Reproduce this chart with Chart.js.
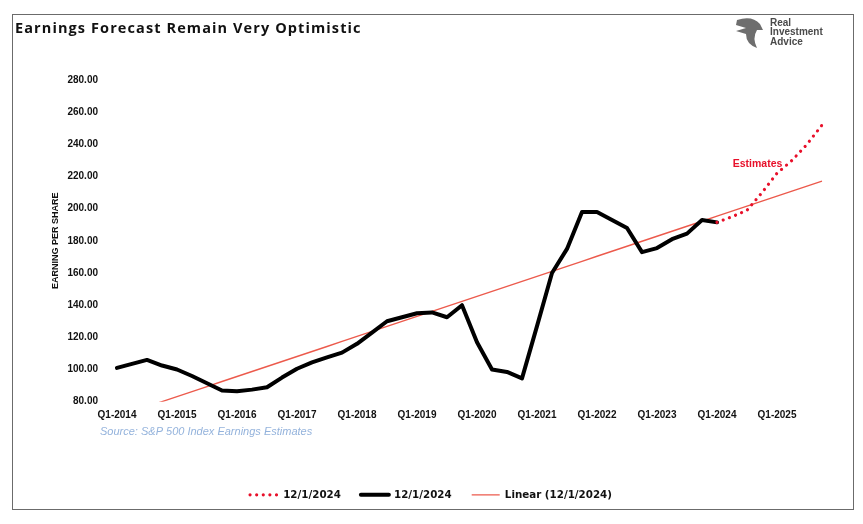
<!DOCTYPE html>
<html>
<head>
<meta charset="utf-8">
<script src="https://cdn.jsdelivr.net/npm/chart.js@4.4.1/dist/chart.umd.min.js"></script>
<style>
  html, body { margin: 0; padding: 0; background: #fff; }
  #wrap { width: 863px; height: 524px; position: relative; }
</style>
</head>
<body>
<div id="wrap"><canvas id="myChart" width="863" height="524"></canvas></div>
<script>
// quarterly EPS, Q1-2014 .. Q1-2024 (actual)
const years = [2014, 2015, 2016, 2017, 2018, 2019, 2020, 2021, 2022, 2023, 2024, 2025];
const actual = [
    101, 103.5, 106, 102.5,
    100, 96, 91.5, 87,
    86.5, 87.5, 89, 95,
    100.5, 104.5, 107.5, 110.5,
    116, 123, 130, 132.5,
    135, 135.5, 132.5, 140,
    117, 100, 98.5, 94.5,
    127, 160, 175, 198,
    198, 193, 188, 173,
    175.5, 181, 184.5, 193,
    191.5
];
// estimates start from the last actual quarter
const estimates = [191.5, 195, 199, 210, 222, 230, 240, 252];
const yTicks = [80, 100, 120, 140, 160, 180, 200, 220, 240, 260, 280];

let labels = [];
years.forEach(y => {
    for (let q = 1; q <= 4; q++) labels.push('Q' + q + '-' + y);
});

const estStart = actual.length - 1;
let estData = labels.map((l, i) => i >= estStart ? estimates[i - estStart] : null);

// linear trendline (least squares over actual + estimates, like Excel)
const combined = actual.concat(estimates.slice(1));
const n = combined.length;
let sx = 0, sy = 0, sxy = 0, sxx = 0;
combined.forEach((v, i) => { sx += i; sy += v; sxy += i * v; sxx += i * i; });
const slope = (n * sxy - sx * sy) / (n * sxx - sx * sx);
const icpt = (sy - slope * sx) / n;
let trend = labels.map((l, i) => icpt + slope * i);

const extras = {
    id: 'extras',
    beforeDraw(chart) {
        const c = chart.ctx;
        c.save();
        c.fillStyle = '#fff';
        c.fillRect(0, 0, chart.width, chart.height);
        c.strokeStyle = '#6b6b6b';
        c.lineWidth = 1;
        c.strokeRect(12.5, 14.5, 841, 495);
        c.restore();
    },
    afterDraw(chart) {
        const c = chart.ctx;
        const xs = chart.scales.x, ys = chart.scales.y;
        c.save();
        // title
        c.fillStyle = '#111';
        c.font = 'bold 14.5px "Open Sans"';
        c.textBaseline = 'alphabetic';
        c.textAlign = 'left';
        c.letterSpacing = '1.1px';
        c.fillText('Earnings Forecast Remain Very Optimistic', 15, 33);
        c.letterSpacing = '0px';

        // source
        c.fillStyle = '#94b3dc';
        c.font = 'italic 11px "Liberation Sans"';
        c.textBaseline = 'middle';
        c.fillText('Source: S&P 500 Index Earnings Estimates', 100, 432);

        // estimates label
        c.fillStyle = '#e8102a';
        c.font = 'bold 10.5px "Liberation Sans"';
        c.textAlign = 'center';
        c.fillText('Estimates', xs.getPixelForValue(42.7), ys.getPixelForValue(227.5));

        // logo
        c.fillStyle = '#4a4a4a';
        c.font = 'bold 10px "Liberation Sans"';
        c.textAlign = 'left';
        c.fillText('Real', 770, 23);
        c.fillText('Investment', 770, 32.5);
        c.fillText('Advice', 770, 42);
        c.fillStyle = '#6e6e6e';
        c.beginPath();
        c.moveTo(737, 20);
        c.quadraticCurveTo(752, 15, 760, 24);
        c.lineTo(763, 30);
        c.lineTo(757, 30);
        c.quadraticCurveTo(752, 38, 757, 48);
        c.quadraticCurveTo(746, 44, 746, 34);
        c.lineTo(736, 31);
        c.lineTo(746, 28);
        c.lineTo(736, 25);
        c.closePath();
        c.fill();
        c.restore();
    }
};

const ctx = document.getElementById('myChart');
const chartEps = new Chart(ctx, {
    type: 'line',
    data: {
        labels: labels,
        datasets: [{
            label: '12/1/2024',
            data: estData,
            borderColor: '#e8102a',
            backgroundColor: '#e8102a',
            borderWidth: 3.2,
            borderDash: [0.01, 6.6],
            borderCapStyle: 'round',
            pointRadius: 0,
            tension: 0,
        }, {
            label: '12/1/2024',
            data: actual,
            borderColor: '#000',
            backgroundColor: '#000',
            borderWidth: 4,
            borderJoinStyle: 'round',
            borderCapStyle: 'round',
            pointRadius: 0,
            tension: 0,
        }, {
            label: 'Linear (12/1/2024)',
            data: trend,
            borderColor: '#ec5a4c',
            backgroundColor: '#ec5a4c',
            borderWidth: 1.4,
            pointRadius: 0,
            tension: 0,
        }]
    },
    options: {
        responsive: false,
        animation: false,
        events: [],
        layout: {
            padding: { left: 40, right: 41, top: 80, bottom: 14 }
        },
        scales: {
            x: {
                grid: { display: false, drawTicks: false },
                border: { display: false },
                ticks: {
                    autoSkip: false,
                    maxRotation: 0,
                    padding: 8,
                    color: '#111',
                    font: { family: 'Liberation Sans', size: 10, weight: 'bold' },
                    callback: function (val, i) {
                        return i % 4 === 0 ? labels[i] : '';
                    }
                },
                afterFit: function (scale) { scale.height = 68; }
            },
            y: {
                min: 80,
                max: 280,
                afterBuildTicks: function (scale) {
                    scale.ticks = yTicks.map(v => ({ value: v }));
                },
                grid: { display: false, drawTicks: false },
                border: { display: false },
                ticks: {
                    padding: 19,
                    color: '#111',
                    font: { family: 'Liberation Sans', size: 10, weight: 'bold' },
                    callback: v => v.toFixed(2)
                },
                title: {
                    display: true,
                    text: 'EARNING PER SHARE',
                    color: '#111',
                    padding: { top: 10, bottom: 0 },
                    font: { family: 'Liberation Sans', size: 9, weight: 'bold' }
                },
                afterFit: function (scale) { scale.width = 77; }
            }
        },
        plugins: {
            legend: {
                position: 'bottom',
                labels: {
                    usePointStyle: true,
                    pointStyleWidth: 28,
                    boxHeight: 4,
                    padding: 20,
                    color: '#111',
                    font: { family: 'DejaVu Sans', size: 10.3, weight: 'bold' },
                    generateLabels: function (chart) {
                        return chart.data.datasets.map((ds, i) => ({
                            text: ds.label,
                            datasetIndex: i,
                            fillStyle: ds.borderColor,
                            strokeStyle: ds.borderColor,
                            lineWidth: ds.borderWidth,
                            lineDash: ds.borderDash || [],
                            lineCap: ds.borderCapStyle || 'butt',
                            pointStyle: 'line',
                            fontColor: '#111',
                            hidden: false
                        }));
                    }
                }
            },
            tooltip: { enabled: false },
            title: { display: false }
        }
    },
    plugins: [extras]
});
</script>
</body>
</html>
